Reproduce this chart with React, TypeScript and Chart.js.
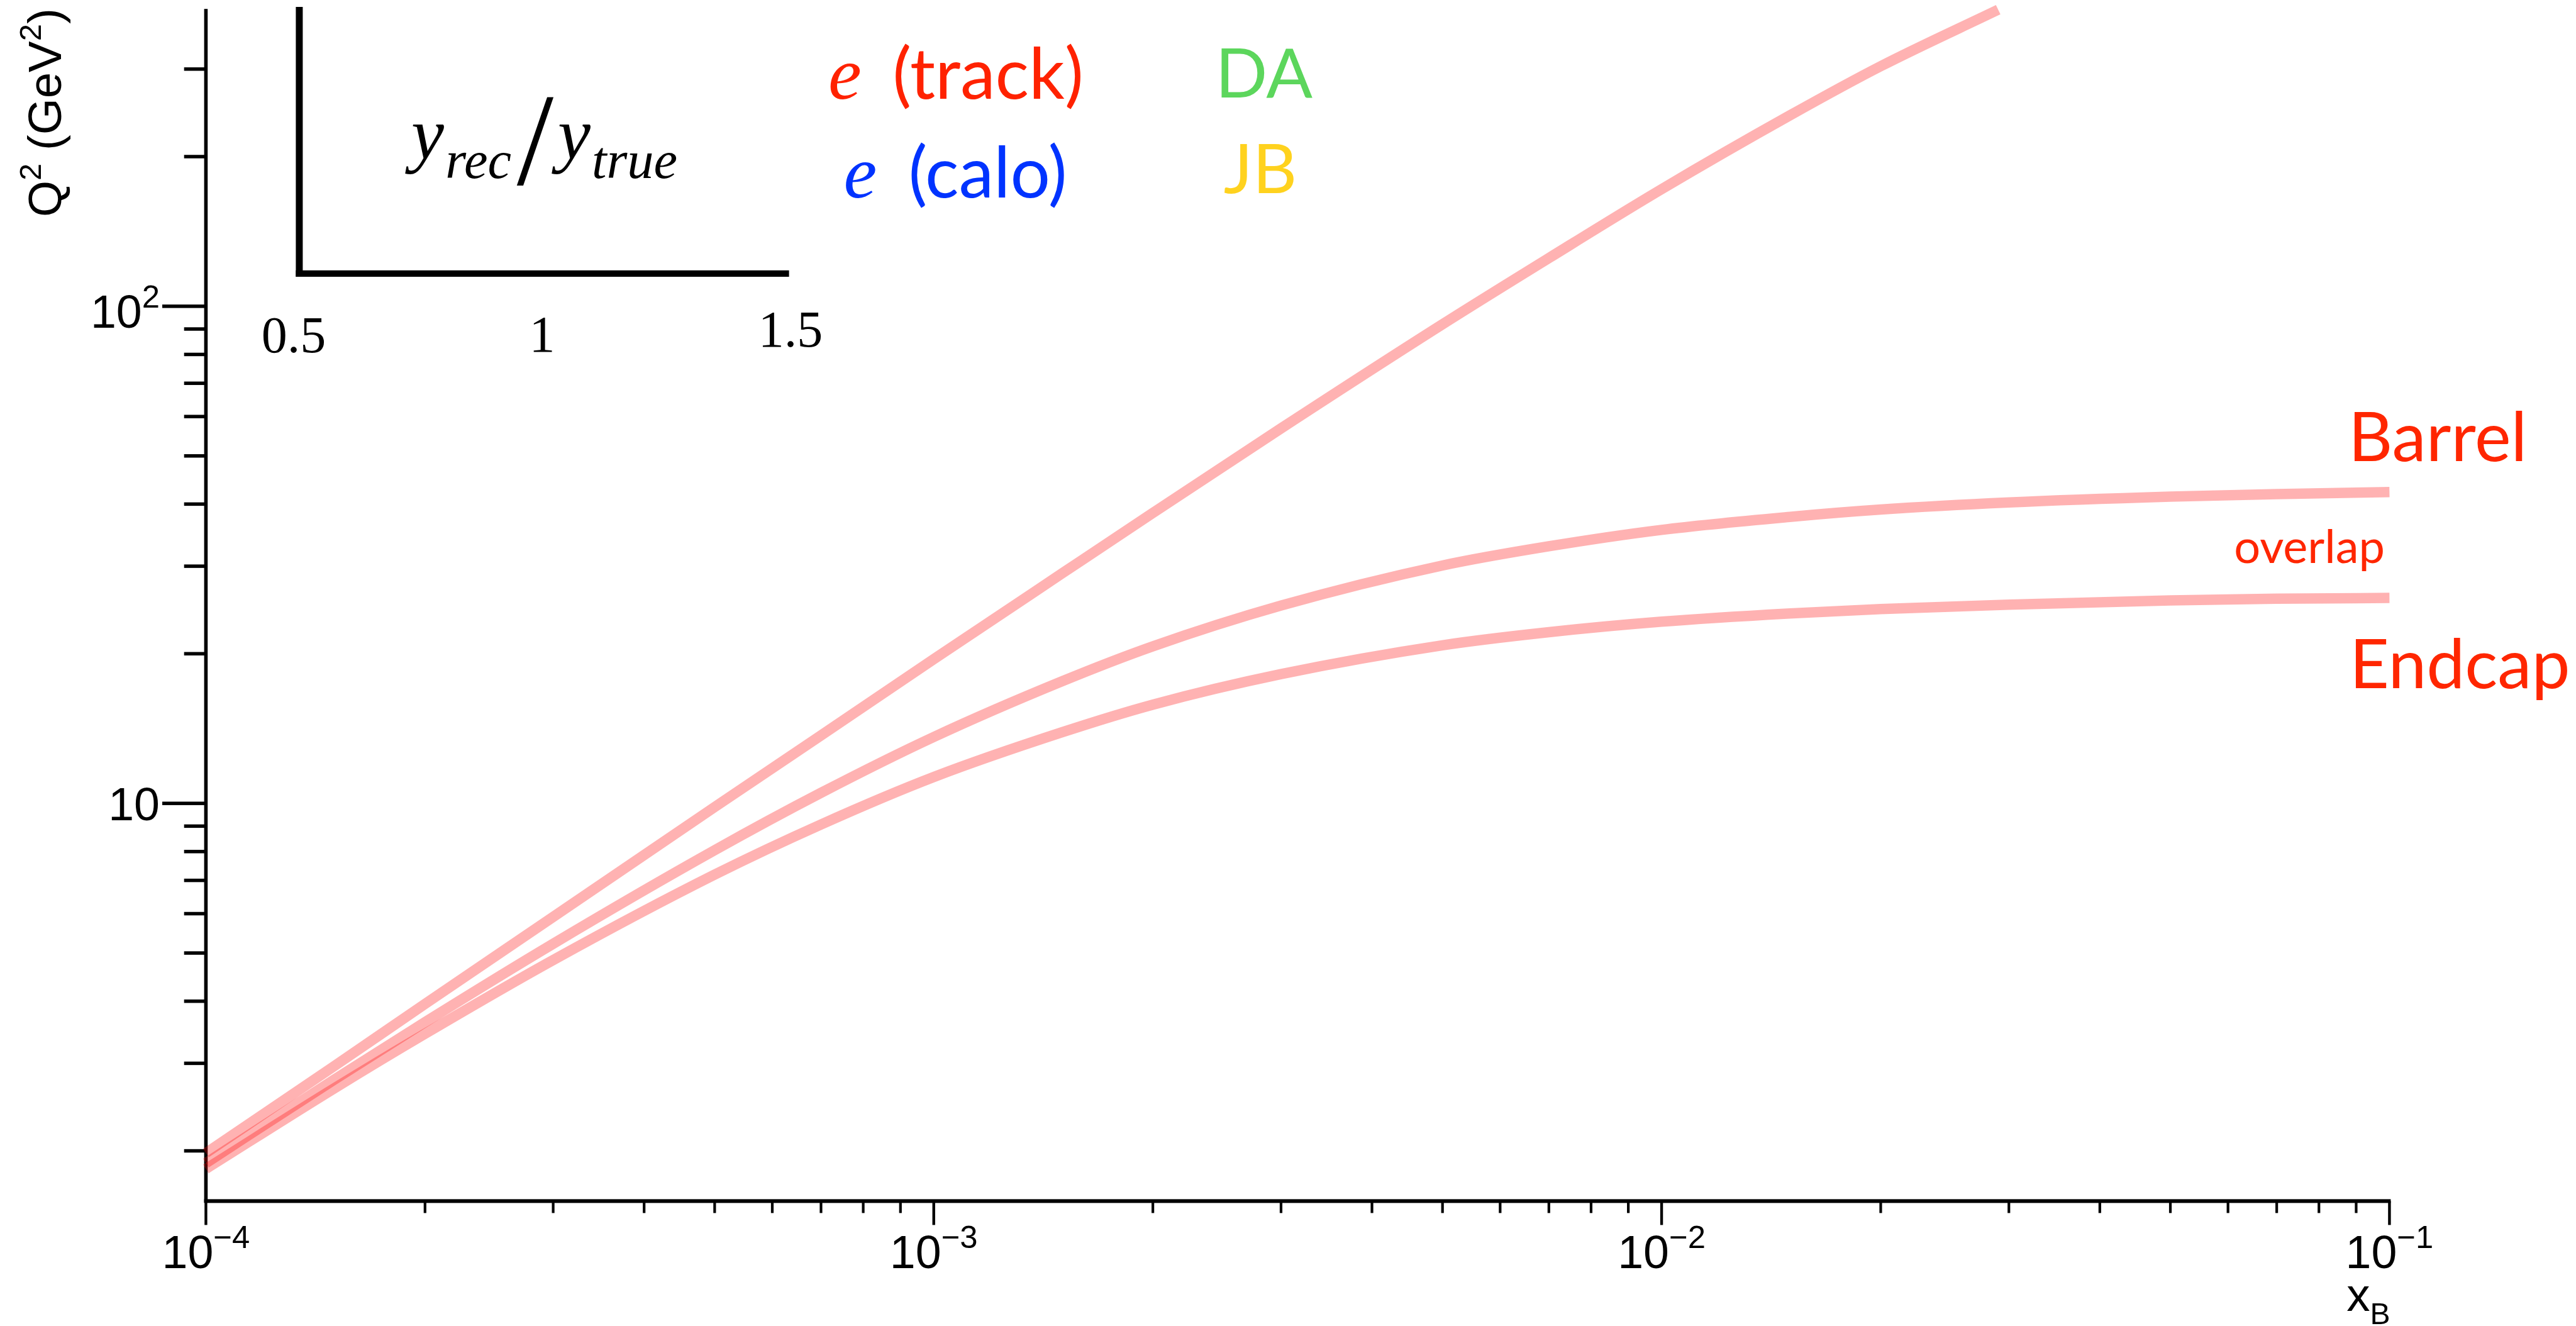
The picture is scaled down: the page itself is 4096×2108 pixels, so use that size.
import React, { useEffect, useRef } from 'react';
import { Chart, registerables } from 'chart.js';

Chart.register(...registerables);

// ---------------- data ----------------
// top curve (steep kinematic line), ends at the top of the frame
const xTop = [1e-4, 1.5e-4, 2e-4, 3e-4, 5e-4, 7e-4, 1e-3, 1.5e-3, 2e-3, 3e-3, 5e-3, 7e-3, 1e-2, 1.5e-2, 2e-2, 2.9e-2];
const q2Top = [1.98, 2.96, 3.95, 5.91, 9.83, 13.7, 19.5, 29.0, 38.4, 56.8, 92, 125, 172, 242, 304, 395];

// Barrel / Endcap boundary curves
const xCurve = [1e-4, 1.5e-4, 2e-4, 3e-4, 5e-4, 7e-4, 1e-3, 1.5e-3, 2e-3, 3e-3, 5e-3, 7e-3, 1e-2, 1.5e-2, 2e-2, 3e-2, 5e-2, 7e-2, 1e-1];
const q2Barrel = [1.89, 2.78, 3.63, 5.22, 8.05, 10.5, 13.6, 17.6, 20.7, 25.0, 30.1, 32.9, 35.5, 37.7, 39.0, 40.3, 41.4, 41.9, 42.3];
const q2Endcap = [1.84, 2.67, 3.44, 4.84, 7.19, 9.07, 11.3, 13.9, 15.8, 18.2, 20.8, 22.1, 23.2, 24.1, 24.6, 25.1, 25.6, 25.8, 25.9];

// axes
const xMin = 1e-4;
const xMax = 1e-1;
const yMin = Math.pow(10, 0.2);
const yMax = Math.pow(10, 2.6);
const xMajorTicks = [1e-4, 1e-3, 1e-2, 1e-1];
const xTickBase = ['10', '10', '10', '10'];
const xTickExponents = ['\u22124', '\u22123', '\u22122', '\u22121'];
const xMinorTicks = [
  2e-4, 3e-4, 4e-4, 5e-4, 6e-4, 7e-4, 8e-4, 9e-4,
  2e-3, 3e-3, 4e-3, 5e-3, 6e-3, 7e-3, 8e-3, 9e-3,
  2e-2, 3e-2, 4e-2, 5e-2, 6e-2, 7e-2, 8e-2, 9e-2,
];
const yMajorTicks = [10, 100];
const yTickBase = ['10', '10'];
const yTickExponents = ['', '2'];
const yMinorTicks = [2, 3, 4, 5, 6, 7, 8, 9, 20, 30, 40, 50, 60, 70, 80, 90, 200, 300];

// inset ratio axis
const insetTicks = ['0.5', '1', '1.5'];

// labels
const legendLeft = [
  { sym: 'e', text: '(track)', color: '#ff2200' },
  { sym: 'e', text: '(calo)', color: '#0033ff' },
];
const legendRight = [
  { text: 'DA', color: '#5cd65c' },
  { text: 'JB', color: '#ffd21e' },
];
const regionLabels = ['Barrel', 'overlap', 'Endcap'];

// ---------------- layout ----------------
const W = 4096;
const H = 2108;
const AREA = { left: 327.4, right: 3799.4, top: 12.7, bottom: 1909.4 };

const SANS = '"Liberation Sans"';
const SERIF = '"Liberation Serif"';
const LABEL = 'Lato';
const CURVE = 'rgba(255,0,0,0.3)';
const RED = '#ff2600';

function drawSup(
  ctx: CanvasRenderingContext2D,
  base: string,
  exp: string,
  x: number,
  y: number,
  baseSize: number,
  expSize: number,
  raise: number,
  align: 'left' | 'center' | 'right',
  family: string,
) {
  ctx.textAlign = 'left';
  ctx.textBaseline = 'alphabetic';
  ctx.font = `${baseSize}px ${family}`;
  const wb = ctx.measureText(base).width;
  ctx.font = `${expSize}px ${family}`;
  const we = exp ? ctx.measureText(exp).width : 0;
  const total = wb + we;
  let sx = x;
  if (align === 'center') sx = x - total / 2;
  if (align === 'right') sx = x - total;
  ctx.font = `${baseSize}px ${family}`;
  ctx.fillText(base, sx, y);
  if (exp) {
    ctx.font = `${expSize}px ${family}`;
    ctx.fillText(exp, sx + wb, y - raise);
  }
}

const decor = {
  id: 'decor',
  beforeDatasetsDraw(chart: any) {
    const ctx: CanvasRenderingContext2D = chart.ctx;
    const xs = chart.scales.x;
    const ys = chart.scales.y;
    const { left, right, top, bottom } = chart.chartArea;
    ctx.save();
    ctx.fillStyle = '#000';
    // axis lines
    ctx.fillRect(left - 2.8, top + 1.5, 5.6, bottom - top + 1);
    ctx.fillRect(left - 2.8, bottom - 3, right - left + 2.8 + 2, 6);
    // x ticks (outward, downward)
    for (const v of xMajorTicks) {
      const px = xs.getPixelForValue(v);
      ctx.fillRect(px - 2.2, bottom, 4.4, 38);
    }
    for (const v of xMinorTicks) {
      const px = xs.getPixelForValue(v);
      ctx.fillRect(px - 2.1, bottom, 4.2, 19);
    }
    // y ticks (outward, left)
    for (const v of yMajorTicks) {
      const py = ys.getPixelForValue(v);
      ctx.fillRect(left - 69.4, py - 2.75, 69.4, 5.5);
    }
    for (const v of yMinorTicks) {
      const py = ys.getPixelForValue(v);
      ctx.fillRect(left - 34.7, py - 2.75, 34.7, 5.5);
    }

    // x tick labels
    ctx.fillStyle = '#000';
    xMajorTicks.forEach((v, i) => {
      const px = xs.getPixelForValue(v);
      drawSup(ctx, xTickBase[i], xTickExponents[i], px, bottom + 106.6, 73.6, 50.8, 32, 'center', SANS);
    });
    // y tick labels
    yMajorTicks.forEach((v, i) => {
      const py = ys.getPixelForValue(v);
      const exp = yTickExponents[i];
      const baseY = exp ? py + 33.8 : py + 26.4;
      drawSup(ctx, yTickBase[i], exp, left - 73.4, baseY, 73.6, 50.8, 32, 'right', SANS);
    });

    // y axis title (rotated)
    ctx.save();
    ctx.translate(96.5, 345);
    ctx.rotate(-Math.PI / 2);
    ctx.textAlign = 'left';
    ctx.textBaseline = 'alphabetic';
    let cx = 0;
    const parts: [string, boolean][] = [['Q', false], ['2', true], [' (GeV', false], ['2', true], [')', false]];
    for (const [t, sup] of parts) {
      ctx.font = sup ? `49px ${SANS}` : `74.5px ${SANS}`;
      ctx.fillText(t, cx, sup ? -32 : 0);
      cx += ctx.measureText(t).width;
    }
    ctx.restore();

    // x axis title  x_B
    ctx.font = `74.5px ${SANS}`;
    const wx = ctx.measureText('x').width;
    ctx.font = `48px ${SANS}`;
    const wB = ctx.measureText('B').width;
    const sx0 = right + 1 - wx - wB;
    ctx.font = `74.5px ${SANS}`;
    ctx.textAlign = 'left';
    ctx.fillText('x', sx0, 2083.7);
    ctx.font = `48px ${SANS}`;
    ctx.fillText('B', sx0 + wx, 2104.8);

    // inset frame
    ctx.fillRect(470.4, 11, 11, 429);
    ctx.fillRect(470.4, 429.8, 784.2, 10.2);
    ctx.font = `82px ${SERIF}`;
    ctx.textAlign = 'center';
    const insetX = [467, 862, 1257];
    const insetY = [560, 559, 551];
    insetTicks.forEach((t, i) => ctx.fillText(t, insetX[i], insetY[i]));
    // y_rec / y_true
    ctx.font = `italic 117px ${SERIF}`;
    ctx.fillText('y', 680, 252);
    ctx.fillText('y', 913, 252);
    ctx.font = `italic 84.5px ${SERIF}`;
    ctx.fillText('rec', 760.6, 282.6);
    ctx.fillText('true', 1009, 282.6);
    ctx.font = `210px ${SERIF}`;
    ctx.fillText('/', 851, 293);

    // legend: e (track), e (calo)
    const legY = [157, 314.4];
    const legE = [1343.5, 1368];
    const legP = [1571, 1570.5];
    legendLeft.forEach((l, i) => {
      ctx.fillStyle = l.color;
      ctx.textAlign = 'center';
      ctx.font = `italic 119px ${SERIF}`;
      ctx.fillText(l.sym, legE[i], legY[i]);
      ctx.font = `112px ${LABEL}`;
      ctx.fillText(l.text, legP[i], legY[i]);
    });
    const rY = [154.5, 307];
    const rX = [2009.7, 2004];
    legendRight.forEach((l, i) => {
      ctx.fillStyle = l.color;
      ctx.textAlign = 'center';
      ctx.font = `109px ${LABEL}`;
      ctx.fillText(l.text, rX[i], rY[i]);
    });

    // region labels
    ctx.fillStyle = RED;
    ctx.textAlign = 'left';
    ctx.font = `109px ${LABEL}`;
    ctx.fillText(regionLabels[0], 3734, 733);
    ctx.fillText(regionLabels[2], 3736, 1094);
    ctx.textAlign = 'right';
    ctx.font = `74px ${LABEL}`;
    ctx.fillText(regionLabels[1], 3792, 895);
    ctx.restore();
  },
};

function toPoints(xs: number[], ys: number[]) {
  return xs.map((x, i) => ({ x, y: ys[i] }));
}

export default function App() {
  const ref = useRef<HTMLCanvasElement>(null);
  useEffect(() => {
    if (!ref.current) return;
    const common = {
      borderColor: CURVE,
      borderWidth: 16.5,
      pointRadius: 0,
      pointHoverRadius: 0,
      fill: false,
      cubicInterpolationMode: 'monotone' as const,
      borderCapStyle: 'butt' as const,
      borderJoinStyle: 'round' as const,
      clip: false as const,
    };
    const chart = new Chart(ref.current, {
      type: 'line',
      data: {
        datasets: [
          { ...common, label: 'top', data: toPoints(xTop, q2Top) },
          { ...common, label: 'Barrel', data: toPoints(xCurve, q2Barrel) },
          { ...common, label: 'Endcap', data: toPoints(xCurve, q2Endcap) },
        ],
      },
      options: {
        responsive: false,
        devicePixelRatio: 1,
        animation: false,
        events: [],
        layout: {
          padding: {
            left: AREA.left,
            right: W - AREA.right,
            top: AREA.top,
            bottom: H - AREA.bottom,
          },
        },
        plugins: { legend: { display: false }, tooltip: { enabled: false } },
        scales: {
          x: { type: 'logarithmic', min: xMin, max: xMax, display: false },
          y: { type: 'logarithmic', min: yMin, max: yMax, display: false },
        },
      },
      plugins: [decor],
    });
    return () => chart.destroy();
  }, []);
  return (
    <div style={{ position: 'absolute', left: 0, top: 0, width: W, height: H, background: '#fff' }}>
      <canvas ref={ref} width={W} height={H} style={{ display: 'block', width: W, height: H }} />
    </div>
  );
}
